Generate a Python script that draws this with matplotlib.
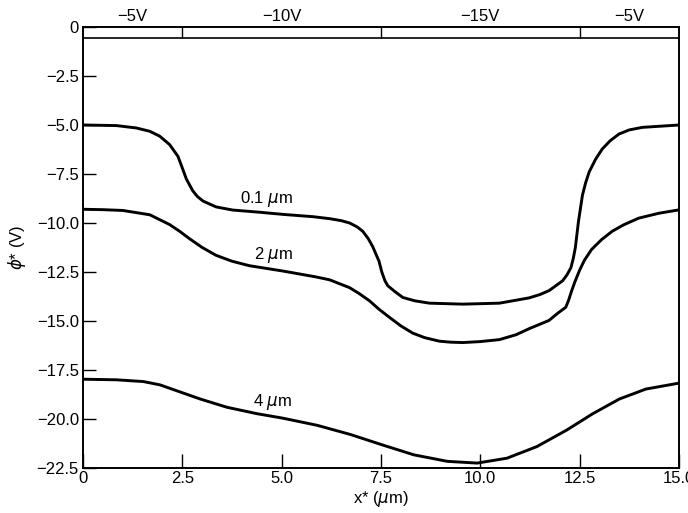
import matplotlib
matplotlib.use("Agg")
import matplotlib.pyplot as plt
import matplotlib.transforms as mtransforms

plt.rcParams['font.family'] = ['Liberation Sans', 'DejaVu Sans']
plt.rcParams['mathtext.fontset'] = 'dejavusans'

# ---- data ----
x_01 = [0, 0.84, 1.34, 1.68, 1.93, 2.18, 2.39, 2.51, 2.6, 2.76, 2.88, 3.02, 3.35, 3.77, 4.44,
        5.03, 5.8, 6.21, 6.5, 6.71, 6.9, 7.04, 7.18, 7.29, 7.45, 7.52, 7.6, 7.67, 7.85, 8.05,
        8.35, 8.72, 9.56, 10.48, 11.23, 11.5, 11.73, 12.07, 12.18, 12.28, 12.34, 12.39, 12.43,
        12.47, 12.52, 12.57, 12.65, 12.74, 12.9, 13.07, 13.27, 13.49, 13.75, 14.08, 15.0]
v_01 = [-5.0, -5.03, -5.15, -5.32, -5.57, -6.0, -6.6, -7.25, -7.75, -8.35, -8.65, -8.88, -9.18,
        -9.34, -9.45, -9.56, -9.68, -9.78, -9.88, -10.0, -10.2, -10.42, -10.8, -11.2, -11.95,
        -12.5, -12.95, -13.2, -13.5, -13.8, -13.97, -14.09, -14.14, -14.09, -13.82, -13.65,
        -13.45, -12.95, -12.65, -12.28, -11.8, -11.27, -10.6, -9.92, -9.25, -8.58, -7.95,
        -7.39, -6.75, -6.22, -5.8, -5.46, -5.25, -5.12, -5.0]

x_2 = [0, 0.5, 1.0, 1.68, 2.18, 2.43, 2.68, 3.0, 3.35, 3.75, 4.19, 5.03, 5.86, 6.21, 6.71,
       6.95, 7.21, 7.45, 7.71, 8.0, 8.3, 8.6, 8.97, 9.25, 9.56, 10.0, 10.48, 10.9, 11.23, 11.73,
       11.95, 12.15, 12.22, 12.3, 12.38, 12.5, 12.62, 12.8, 13.05, 13.32, 13.6, 13.99, 14.5,
       15.0]
v_2 = [-9.3, -9.32, -9.36, -9.58, -10.08, -10.42, -10.8, -11.25, -11.65, -11.95, -12.18,
       -12.45, -12.75, -12.9, -13.3, -13.6, -13.97, -14.4, -14.81, -15.25, -15.62, -15.85,
       -16.03, -16.08, -16.1, -16.05, -15.95, -15.7, -15.39, -14.97, -14.6, -14.3, -13.95,
       -13.45, -13.0, -12.4, -11.9, -11.35, -10.85, -10.42, -10.1, -9.75, -9.5, -9.33]

x_4 = [0, 0.84, 1.52, 1.94, 2.36, 2.95, 3.62, 4.38, 5.01, 5.89, 6.73, 7.5, 8.33, 9.17, 9.92,
       10.67, 11.42, 12.17, 12.83, 13.5, 14.17, 15.0]
v_4 = [-17.97, -18.0, -18.09, -18.26, -18.56, -18.98, -19.4, -19.73, -19.95, -20.32, -20.79,
       -21.3, -21.83, -22.16, -22.25, -22.0, -21.41, -20.57, -19.73, -18.98, -18.47, -18.17]

curve_labels = ["0.1 $\\mu$m", "2 $\\mu$m", "4 $\\mu$m"]
curve_label_x = [4.62, 4.8, 4.78]
curve_label_v = [-8.8, -11.62, -19.12]

electrode_edges = [0, 2.5, 7.5, 12.5, 15.0]
electrode_labels = ["\u22125V", "\u221210V", "\u221215V", "\u22125V"]
band_depth = -0.55

xticks = [0, 2.5, 5.0, 7.5, 10.0, 12.5, 15.0]
xtick_labels = ["0", "2.5", "5.0", "7.5", "10.0", "12.5", "15.0"]
yticks = [0, -2.5, -5.0, -7.5, -10.0, -12.5, -15.0, -17.5, -20.0, -22.5]
ytick_labels = ["0", "\u22122.5", "\u22125.0", "\u22127.5", "\u221210.0", "\u221212.5",
                "\u221215.0", "\u221217.5", "\u221220.0", "\u221222.5"]

FS = 12

# ---- figure ----
fig = plt.figure(figsize=(6.88, 5.13), dpi=100)
W, H = 688, 513
left, right, top, bottom = 83, 679, 27, 468
ax = fig.add_axes([left / W, 1 - bottom / H, (right - left) / W, (bottom - top) / H])

for xs, vs in [(x_01, v_01), (x_2, v_2), (x_4, v_4)]:
    ax.plot(xs, vs, color='black', lw=2.1, solid_capstyle='round', solid_joinstyle='round')

for lab, lx, lv in zip(curve_labels, curve_label_x, curve_label_v):
    ax.text(lx, lv, lab, ha='center', va='center', fontsize=FS)

# electrode band
ax.hlines(band_depth, electrode_edges[0], electrode_edges[-1], color='black', lw=1.2)
for e in electrode_edges[1:-1]:
    ax.vlines(e, band_depth, 0, color='black', lw=1.0)
trans = mtransforms.blended_transform_factory(ax.transData, ax.transAxes)
for a, b, lab in zip(electrode_edges[:-1], electrode_edges[1:], electrode_labels):
    ax.annotate(lab, xy=((a + b) / 2, 1.0), xycoords=trans, xytext=(0, 2.5),
                textcoords='offset points', ha='center', va='bottom', fontsize=FS)

ax.set_xlim(0, 15)
ax.set_ylim(-22.5, 0)
ax.set_xticks(xticks)
ax.set_xticklabels(xtick_labels, fontsize=FS)
ax.set_yticks(yticks)
ax.set_yticklabels(ytick_labels, fontsize=FS)
ax.tick_params(axis='x', direction='in', length=10, width=1.0, pad=2)
ax.tick_params(axis='y', direction='in', length=9, width=1.0, pad=3)
for s in ax.spines.values():
    s.set_linewidth(1.4)

ax.set_xlabel("x* ($\\mu$m)", fontsize=FS, labelpad=2)
ax.set_ylabel("$\\phi$* (V)", fontsize=FS, labelpad=6)

fig.savefig("out.png", dpi=100)
